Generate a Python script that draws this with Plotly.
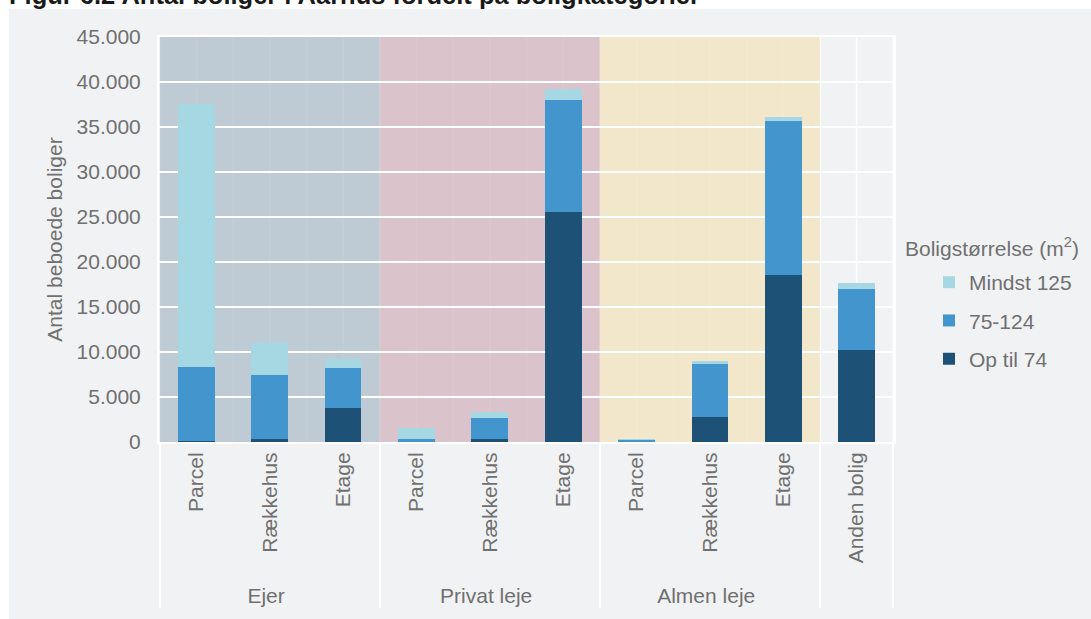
import plotly.graph_objects as go

# Antal beboede boliger i Aarhus fordelt på boligkategori og boligstørrelse
grupper = ['Ejer', 'Ejer', 'Ejer', 'Privat leje', 'Privat leje', 'Privat leje',
           'Almen leje', 'Almen leje', 'Almen leje', ' ']
typer = ['Parcel', 'Rækkehus', 'Etage', 'Parcel', 'Rækkehus', 'Etage',
         'Parcel', 'Rækkehus', 'Etage', 'Anden bolig']

op_til_74 = [150, 370, 3800, 50, 300, 25600, 0, 2750, 18600, 10250]
m75_124 = [8150, 7080, 4400, 320, 2400, 12400, 280, 5900, 17100, 6750]
mindst_125 = [29300, 3550, 1000, 1150, 600, 1200, 30, 350, 400, 650]

serier = ['Op til 74', '75-124', 'Mindst 125']
farver = ['#1d5276', '#4396cd', '#a6d8e3']

GRAA = '#707070'
FONT = 'Liberation Sans, Arial, sans-serif'

W, H = 1091, 619
L, R, T, B = 159, 197, 37, 177
pw, ph = W - L - R, H - T - B

fig = go.Figure()
for i, (navn, vals, farve) in enumerate(zip(serier, [op_til_74, m75_124, mindst_125], farver)):
    fig.add_trace(go.Bar(x=[grupper, typer], y=vals, name=navn, marker_color=farve,
                         marker_line_width=0, legendgroup=str(i), legendrank=3 - i))

# grå baggrund (hvid kant foroven og til venstre)
shapes = [dict(type='rect', xref='paper', yref='paper',
               x0=(9 - L) / pw, x1=(W + 5 - L) / pw, y0=-(B + 5) / ph, y1=(H - B - 9) / ph,
               fillcolor='#f1f2f4', line_width=0, layer='below')]

# lodrette hjælpelinjer ved hver halve kategori
for k in range(21):
    shapes.append(dict(type='line', xref='x', yref='paper', x0=-0.5 + k * 0.5, x1=-0.5 + k * 0.5,
                       y0=0, y1=1, line=dict(color='white', width=1.5), layer='below'))

# farvede felter for ejerforhold
felter = [(-0.5, 2.5, 'rgba(179,193,204,0.8)'),
          (2.5, 5.5, 'rgba(214,182,194,0.8)'),
          (5.5, 8.5, 'rgba(242,227,193,0.8)')]
for x0, x1, c in felter:
    shapes.append(dict(type='rect', xref='x', yref='paper', x0=x0, x1=x1, y0=0, y1=1,
                       fillcolor=c, line_width=0, layer='between'))

fig.update_layout(
    width=W, height=H,
    barmode='stack', bargap=0.5,
    separators=',.',
    paper_bgcolor='white', plot_bgcolor='#f1f2f4',
    margin=dict(l=L, r=R, t=T, b=B),
    font=dict(family=FONT, size=21, color=GRAA),
    title=dict(text='<b>Figur 6.2 Antal boliger i Aarhus fordelt på boligkategorier</b>',
               x=9 / W, xanchor='left', yref='container', y=1 - 4 / H, yanchor='bottom',
               font=dict(size=25.5, color='#1a1a1a', family=FONT)),
    shapes=shapes,
    showlegend=True,
    legend=dict(x=(W - 14 - L) / pw, xanchor='right', y=(H - B - 262) / ph, yanchor='top',
                traceorder='grouped',
                font=dict(size=21, color=GRAA), bgcolor='rgba(0,0,0,0)',
                tracegroupgap=8, itemwidth=30),
    annotations=[dict(text='Boligstørrelse (m<sup>2</sup>)', xref='paper', yref='paper',
                      x=(903 - L) / pw, y=(H - B - 247) / ph, xanchor='left', yanchor='middle',
                      showarrow=False, font=dict(size=21, color=GRAA))],
)

fig.update_yaxes(range=[0, 45000], dtick=5000, tickformat=',d', automargin=False,
                 showgrid=True, gridcolor='white', gridwidth=1.5,
                 zeroline=False, showline=True, linecolor='white', linewidth=2, mirror=True,
                 ticks='', ticklabelstandoff=12,
                 title=dict(text='Antal beboede boliger', font=dict(size=21, color=GRAA), standoff=8),
                 tickfont=dict(size=21, color=GRAA))
fig.update_xaxes(type='multicategory', tickangle=-90, showgrid=False, automargin=False,
                 showline=True, linecolor='white', linewidth=2, mirror=True,
                 showdividers=True, dividercolor='white', dividerwidth=2,
                 tickfont=dict(size=21, color=GRAA))

# siden uden standardmargin, så figuren fylder hele vinduet
fig.write_html('out.html', config={'displayModeBar': False},
               post_script="document.body.style.margin='0';")
